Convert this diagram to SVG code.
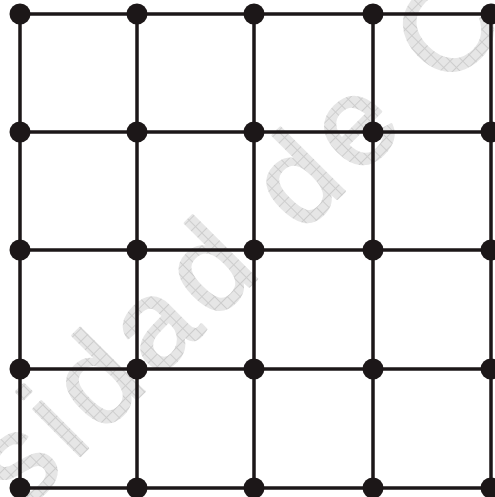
<svg xmlns="http://www.w3.org/2000/svg" width="495" height="497" viewBox="0 0 495 497">
<defs>
<pattern id="hatch" width="9" height="9" patternUnits="userSpaceOnUse">
<rect width="9" height="9" fill="#e6e6e6"/>
<path d="M0 0.5H9M0.5 0V9" stroke="#cdcdcd" stroke-width="1"/>
</pattern>
</defs>
<style>
.wm{font-family:"Liberation Sans",Arial,sans-serif;font-size:125px;letter-spacing:10px;fill:url(#hatch);stroke:url(#hatch);stroke-width:2.5;stroke-linejoin:round}
.e{stroke:#1c1718;stroke-width:3.5;fill:none}
.n{fill:#1c1718}
</style>
<rect width="495" height="497" fill="#ffffff"/>
<text class="wm" transform="translate(23,513) rotate(-45)">sidad de C</text>
<g id="connectors">
<path class="e" d="M20 14H495M20 132H495M20 250H495M20 369H495M20 488H495"/>
<path class="e" d="M20 14V497M137 14V497M254 14V497M373 14V497M491 14V497"/>
</g>
<g id="n-0-0"><circle class="n" cx="20" cy="14" r="10.5"/></g>
<g id="n-1-0"><circle class="n" cx="137" cy="14" r="10.5"/></g>
<g id="n-2-0"><circle class="n" cx="254" cy="14" r="10.5"/></g>
<g id="n-3-0"><circle class="n" cx="373" cy="14" r="10.5"/></g>
<g id="n-4-0"><circle class="n" cx="491" cy="14" r="10.5"/></g>
<g id="n-0-1"><circle class="n" cx="20" cy="132" r="10.5"/></g>
<g id="n-1-1"><circle class="n" cx="137" cy="132" r="10.5"/></g>
<g id="n-2-1"><circle class="n" cx="254" cy="132" r="10.5"/></g>
<g id="n-3-1"><circle class="n" cx="373" cy="132" r="10.5"/></g>
<g id="n-4-1"><circle class="n" cx="491" cy="132" r="10.5"/></g>
<g id="n-0-2"><circle class="n" cx="20" cy="250" r="10.5"/></g>
<g id="n-1-2"><circle class="n" cx="137" cy="250" r="10.5"/></g>
<g id="n-2-2"><circle class="n" cx="254" cy="250" r="10.5"/></g>
<g id="n-3-2"><circle class="n" cx="373" cy="250" r="10.5"/></g>
<g id="n-4-2"><circle class="n" cx="491" cy="250" r="10.5"/></g>
<g id="n-0-3"><circle class="n" cx="20" cy="369" r="10.5"/></g>
<g id="n-1-3"><circle class="n" cx="137" cy="369" r="10.5"/></g>
<g id="n-2-3"><circle class="n" cx="254" cy="369" r="10.5"/></g>
<g id="n-3-3"><circle class="n" cx="373" cy="369" r="10.5"/></g>
<g id="n-4-3"><circle class="n" cx="491" cy="369" r="10.5"/></g>
<g id="n-0-4"><circle class="n" cx="20" cy="488" r="10.5"/></g>
<g id="n-1-4"><circle class="n" cx="137" cy="488" r="10.5"/></g>
<g id="n-2-4"><circle class="n" cx="254" cy="488" r="10.5"/></g>
<g id="n-3-4"><circle class="n" cx="373" cy="488" r="10.5"/></g>
<g id="n-4-4"><circle class="n" cx="491" cy="488" r="10.5"/></g>
</svg>
